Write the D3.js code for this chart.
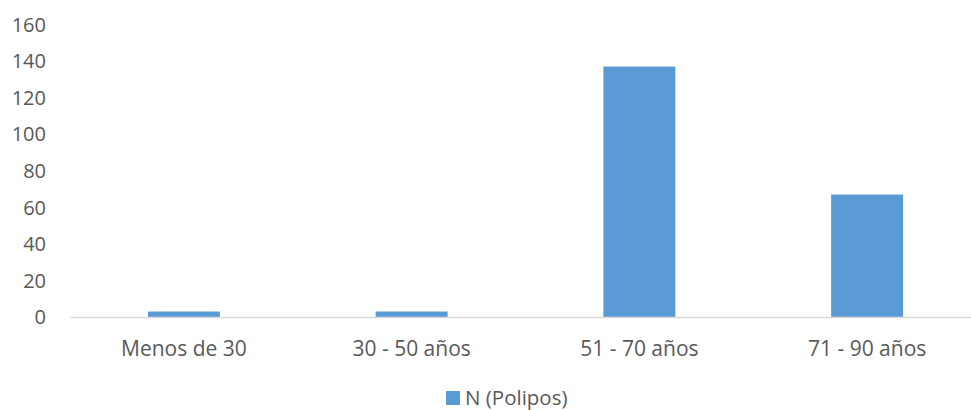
<!DOCTYPE html>
<html>
<head>
<meta charset="utf-8">
<script src="https://cdn.jsdelivr.net/npm/d3@7"></script>
<style>
  html, body { margin: 0; padding: 0; background: #fff; }
  svg { display: block; }
  text { font-family: "Open Sans", "Noto Sans", sans-serif; fill: #595959; }
</style>
</head>
<body>
<svg id="chart" width="971" height="410"></svg>
<script>
// Age groups and number of polyps in each
const categories = ["Menos de 30", "30 - 50 años", "51 - 70 años", "71 - 90 años"];
const polipos = [3, 3, 137, 67];
const yTicks = [0, 20, 40, 60, 80, 100, 120, 140, 160];
const seriesName = "N (Polipos)";

const svg = d3.select("#chart");
const barColor = "#5B9BD5";

const x = d3.scaleBand().domain(categories).range([70, 981]).paddingInner(0.684).paddingOuter(0.342);
const y = d3.scaleLinear().domain([0, 160]).range([317, 24.5]);

// Y tick labels (no gridlines)
svg.append("g")
  .selectAll("text")
  .data(yTicks)
  .join("text")
  .attr("x", 46)
  .attr("y", d => y(d))
  .attr("dy", "0.36em")
  .attr("text-anchor", "end")
  .style("font-size", "20px")
  .text(d => d);

// Bars
svg.append("g")
  .selectAll("rect")
  .data(categories.map((c, i) => ({ c, v: polipos[i] })))
  .join("rect")
  .attr("x", d => x(d.c))
  .attr("y", d => y(d.v))
  .attr("width", x.bandwidth())
  .attr("height", d => y(0) - y(d.v))
  .attr("fill", barColor);

// Category axis
const xAxis = svg.append("g")
  .attr("transform", `translate(0,${y(0)})`)
  .call(d3.axisBottom(x).tickSize(0).tickPadding(0));
xAxis.select(".domain").attr("stroke", "#D9D9D9").attr("stroke-width", 1.5);
xAxis.selectAll(".tick text")
  .attr("y", 31)
  .attr("dy", "0.36em")
  .attr("fill", "#595959")
  .style("font-size", "21px")
  .style("font-family", "\"Open Sans\", \"Noto Sans\", sans-serif");

// Legend
const legend = svg.append("g");
legend.append("rect")
  .attr("x", 446).attr("y", 391)
  .attr("width", 14).attr("height", 14)
  .attr("fill", barColor);
legend.append("text")
  .attr("x", 465).attr("y", 397.5)
  .attr("dy", "0.36em")
  .style("font-size", "20.5px")
  .text(seriesName);
</script>
</body>
</html>
